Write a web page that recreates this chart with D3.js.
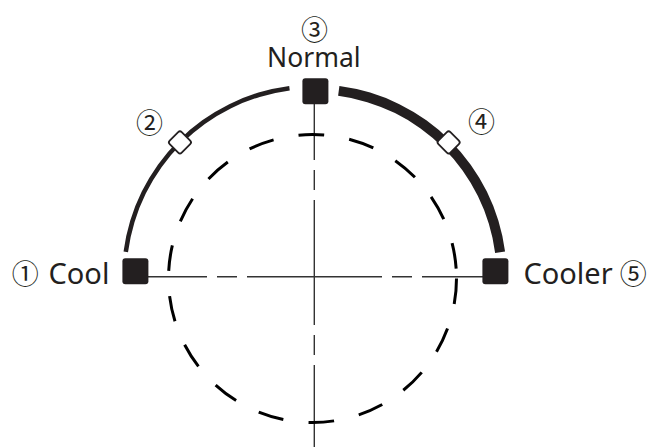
<!DOCTYPE html>
<html>
<head>
<meta charset="utf-8">
<script src="https://cdn.jsdelivr.net/npm/d3@7"></script>
<style>
  html, body { margin: 0; padding: 0; background: #ffffff; }
  svg { display: block; }
</style>
</head>
<body>
<div id="chart"></div>
<script>
// ---- data ----
const settingNames   = ["Cool", "", "Normal", "", "Cooler"];
const settingNumbers = ["①", "②", "③", "④", "⑤"];
const settingKinds   = ["main", "step", "main", "step", "main"];
const segmentFrom     = [0, 2];
const segmentTo       = [2, 4];
const segmentStrength = [1, 2];

// ---- layout ----
const W = 653, H = 447;
const cx = 314.3, cy = 276.7;          // dial centre (axis crossing)
const markCx = 315.4, markCy = 271.3;  // square marker layout centre
const ringOuter = 192.4, stepR = 190, markR = 180;
const ink = "#231f20";

const svg = d3.select("#chart").append("svg")
  .attr("width", W).attr("height", H)
  .attr("viewBox", `0 0 ${W} ${H}`);

// setting index -> angle (radians, 0 = up, clockwise)
const angle = d3.scaleLinear().domain([0, 4]).range([-Math.PI / 2, Math.PI / 2]);
const strokeW = d3.scaleLinear().domain([1, 2]).range([4.5, 10]);
const gap = 7.5 * Math.PI / 180;

// ---- axis lines (centre-line pattern) ----
function centreLine(x1, y1, x2, y2, longDash, longStart) {
  const period = longDash + 40;
  const start = (x1 === x2) ? y1 : x1;
  const off = (((start - longStart) % period) + period) % period;
  svg.append("line")
    .attr("x1", x1).attr("y1", y1).attr("x2", x2).attr("y2", y2)
    .attr("stroke", "#333").attr("stroke-width", 1.4)
    .attr("stroke-dasharray", `${longDash} 10 20 10`)
    .attr("stroke-dashoffset", off);
}
const leftX  = markCx + markR * Math.sin(angle(0));
const rightX = markCx + markR * Math.sin(angle(4));
const topY   = markCy - markR * Math.cos(angle(2));
centreLine(leftX, cy, rightX, cy, 135, 314.5 - 67.5);
centreLine(cx, topY, cx, H + 10, 125, 200);

// ---- dashed reference circle ----
svg.append("circle")
  .attr("cx", 312.5).attr("cy", 278.5).attr("r", 144)
  .attr("fill", "none").attr("stroke", "#000").attr("stroke-width", 3)
  .attr("stroke-dasharray", "25.7 25.4");

// ---- dial arcs ----
const arcGen = d3.arc();
const g = svg.append("g").attr("transform", `translate(${cx},${cy})`);
segmentFrom.forEach((f, i) => {
  const w = strokeW(segmentStrength[i]);
  g.append("path")
    .attr("d", arcGen({
      innerRadius: ringOuter - w,
      outerRadius: ringOuter,
      startAngle: angle(f) + gap,
      endAngle: angle(segmentTo[i]) - gap
    }))
    .attr("fill", ink);
});

// ---- markers ----
const settings = settingNames.map((n, i) => ({
  name: n, num: settingNumbers[i], kind: settingKinds[i], a: angle(i)
}));
settings.forEach(d => {
  if (d.kind === "main") {
    d.x = markCx + markR * Math.sin(d.a);
    d.y = markCy - markR * Math.cos(d.a);
  } else {
    d.x = cx + stepR * Math.sin(d.a);
    d.y = cy - stepR * Math.cos(d.a);
  }
});

svg.selectAll("rect.main").data(settings.filter(d => d.kind === "main"))
  .join("rect").attr("class", "main")
  .attr("x", d => d.x - 13).attr("y", d => d.y - 13)
  .attr("width", 26).attr("height", 26).attr("rx", 3)
  .attr("fill", ink);

svg.selectAll("rect.step").data(settings.filter(d => d.kind === "step"))
  .join("rect").attr("class", "step")
  .attr("x", -8.5).attr("y", -8.5).attr("width", 17).attr("height", 17).attr("rx", 2.5)
  .attr("transform", d => `translate(${d.x},${d.y}) rotate(45)`)
  .attr("fill", "#fff").attr("stroke", ink).attr("stroke-width", 1.8);

// ---- labels ----
const numFont = "'Noto Sans CJK JP', 'DejaVu Sans', sans-serif";
const txtFont = "'Noto Sans', sans-serif";

// number label offsets from their marker
const numPos = [
  d => [d.x - 110.1, d.y + 1.5],
  d => [d.x - 30.5, d.y - 20.6],
  d => [d.x - 0.8, d.y - 62.8],
  d => [d.x + 32.9, d.y - 22.3],
  d => [d.x + 137.9, d.y + 1.2]
];
svg.selectAll("text.num").data(settings)
  .join("text").attr("class", "num")
  .attr("x", (d, i) => numPos[i](d)[0])
  .attr("y", (d, i) => numPos[i](d)[1])
  .attr("text-anchor", "middle")
  .attr("dominant-baseline", "central")
  .attr("font-family", numFont).attr("font-size", 27)
  .attr("fill", ink)
  .text(d => d.num);

// names
const main = settings.filter(d => d.kind === "main");
svg.append("text").attr("x", main[0].x - 26).attr("y", 284.3)
  .attr("text-anchor", "end").attr("font-family", txtFont).attr("font-size", 29)
  .attr("fill", ink).text(main[0].name);
svg.append("text").attr("x", main[1].x - 1.5).attr("y", 66.7)
  .attr("text-anchor", "middle").attr("font-family", txtFont).attr("font-size", 26.5)
  .attr("fill", ink).text(main[1].name);
svg.append("text").attr("x", main[2].x + 28).attr("y", 284.3)
  .attr("text-anchor", "start").attr("font-family", txtFont).attr("font-size", 29)
  .attr("fill", ink).text(main[2].name);
</script>
</body>
</html>
